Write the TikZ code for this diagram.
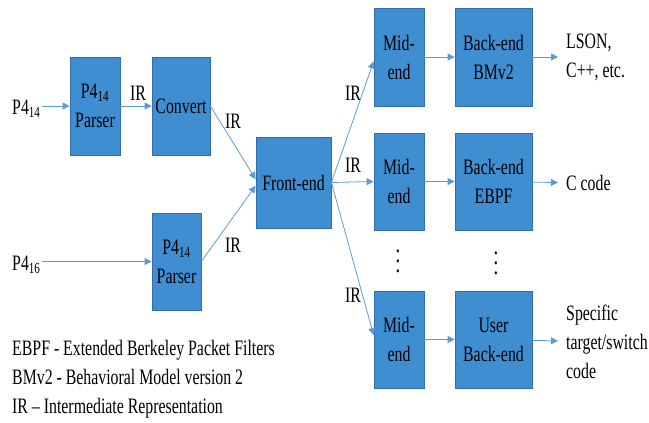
\documentclass[tikz,border=0pt]{standalone}
\usepackage{fontspec}
\setmainfont{Liberation Serif}[FakeStretch=0.72]
\usetikzlibrary{arrows.meta,positioning}

\definecolor{boxfill}{HTML}{3F8ED2}
\definecolor{boxline}{HTML}{2F6EA8}
\definecolor{flow}{HTML}{5B9BD5}

\newcommand{\tallvdots}{\vbox{\baselineskip=10pt\lineskiplimit=0pt\hbox{.}\hbox{.}\hbox{.}}}

\begin{document}
\begin{tikzpicture}[x=1pt, y=-1pt,
    font=\fontsize{22}{29}\selectfont,
    stage/.style={draw=boxline, fill=boxfill, line width=0.8pt, align=center,
        minimum height=98pt, inner sep=1pt},
    flowto/.style={draw=flow, line width=0.8pt, -{Triangle[length=7pt,width=7pt]}},
    lbl/.style={inner sep=1pt},
    vdotsnode/.style={inner sep=0pt, font=\fontsize{26}{10}\selectfont}]
    \useasboundingbox (0,0) rectangle (649,423);

    \node[stage, minimum width=50pt] (parsera) at (95,106) {P4\textsubscript{14}\\Parser};
    \node[stage, minimum width=58pt] (convert) at (181,106) {Convert};
    \node[stage, minimum width=75pt, minimum height=91pt] (front) at (293.5,182.5) {Front-end};
    \node[stage, minimum width=49pt, minimum height=97pt] (parserb) at (176.5,261.5) {P4\textsubscript{14}\\Parser};

    \node[stage, minimum width=50pt] (mida) at (399,57) {Mid-\\end};
    \node[stage, minimum width=77pt] (backa) at (493.5,57) {Back-end\\BMv2};
    \node[stage, minimum width=50pt, minimum height=97pt] (midb) at (399,181.5) {Mid-\\end};
    \node[stage, minimum width=77pt, minimum height=97pt] (backb) at (493.5,181.5) {Back-end\\EBPF};
    \node[stage, minimum width=50pt, minimum height=97pt] (midc) at (399,339.5) {Mid-\\end};
    \node[stage, minimum width=77pt, minimum height=97pt] (backc) at (493.5,339.5) {User\\Back-end};

    \node[vdotsnode] (dotsa) at (398,261) {\tallvdots};
    \node[vdotsnode] (dotsb) at (496,263) {\tallvdots};

    \node[lbl, anchor=west] (ina) at (11,109) {P4\textsubscript{14}};
    \node[lbl, anchor=west] (inb) at (11,265) {P4\textsubscript{16}};

    \node[anchor=west, align=left, inner sep=8pt] (outa) at (558,57) {LSON,\\C++, etc.};
    \node[anchor=west, align=left, inner sep=8pt] (outb) at (558,183) {C code};
    \node[anchor=west, align=left, inner sep=8pt] (outc) at (558,342) {Specific\\target/switch\\code};

    \node[lbl] (ir1) at (138,93) {IR};
    \node[lbl] (ir2) at (233,121) {IR};
    \node[lbl] (ir3) at (233,245) {IR};
    \node[lbl] (ir4) at (353,93) {IR};
    \node[lbl] (ir5) at (353,165) {IR};
    \node[lbl] (ir6) at (353,295) {IR};

    \draw[flowto] (ina.east |- parsera.west) -- (parsera.west);
    \draw[flowto] (parsera) -- (convert);
    \draw[flowto] (convert.east) -- (front.175);
    \draw[flowto] (inb.east |- parserb.west) -- (parserb.west);
    \draw[flowto] (parserb.east) -- (front.185);

    \draw[flowto] (front.east) -- (mida.190);
    \draw[flowto] (front.east) -- (midb.west);
    \draw[flowto] (front.east) -- (midc.170);

    \draw[flowto] (mida) -- (backa);
    \draw[flowto] (midb) -- (backb);
    \draw[flowto] (midc) -- (backc);

    \draw[flowto] (backa) -- (outa);
    \draw[flowto] (backb) -- (outb);
    \draw[flowto] (backc) -- (outc);

    \node[anchor=north west, align=left, inner sep=0pt] (legend) at (12,340)
        {EBPF - Extended Berkeley Packet Filters\\
         BMv2 - Behavioral Model version 2\\
         IR -- Intermediate Representation};
\end{tikzpicture}
\end{document}
